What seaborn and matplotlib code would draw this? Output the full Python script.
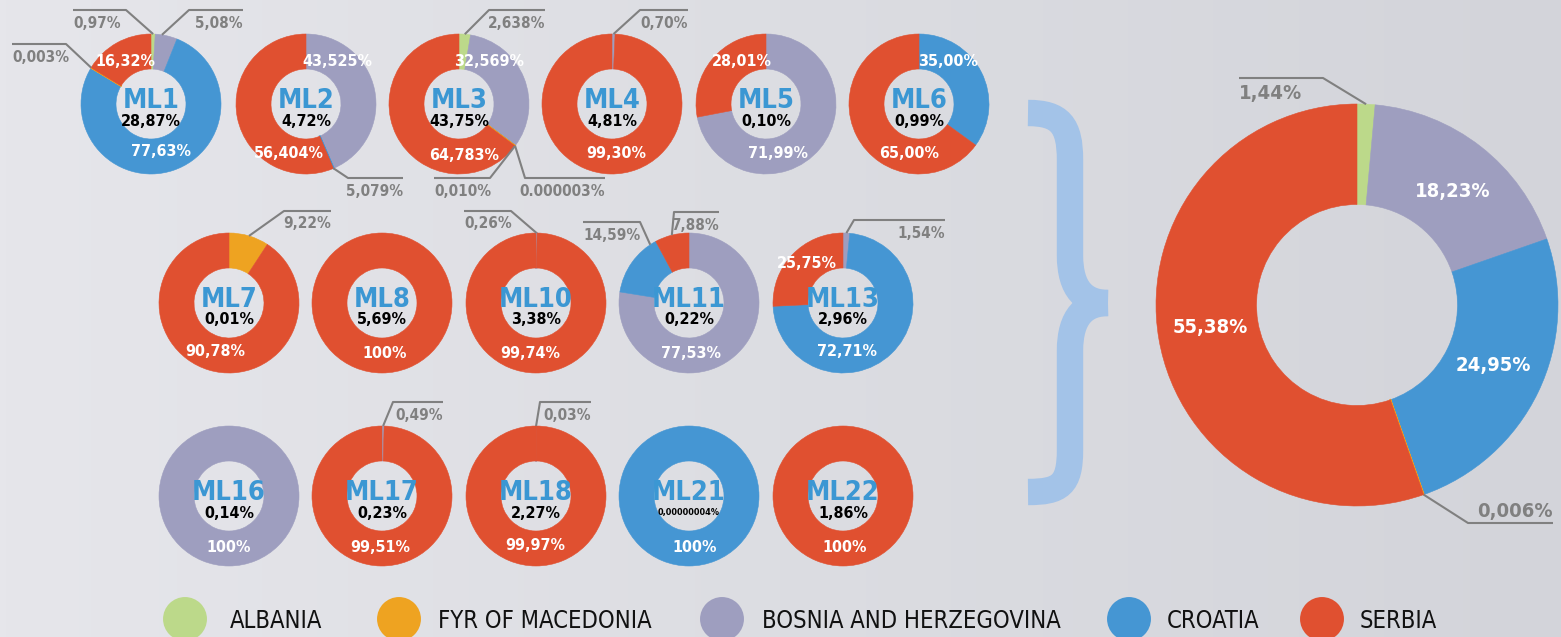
import numpy as np
import pandas as pd
import matplotlib
matplotlib.use("Agg")
import matplotlib.pyplot as plt
from matplotlib.path import Path
from matplotlib.patches import PathPatch
from matplotlib.colors import LinearSegmentedColormap
import seaborn as sns

# donuts and the share printed in the middle of each
names = ["ML1", "ML2", "ML3", "ML4", "ML5", "ML6", "ML7", "ML8", "ML10",
         "ML11", "ML13", "ML16", "ML17", "ML18", "ML21", "ML22"]
share = ["28,87%", "4,72%", "43,75%", "4,81%", "0,10%", "0,99%", "0,01%", "5,69%",
         "3,38%", "0,22%", "2,96%", "0,14%", "0,23%", "2,27%", "0,00000004%", "1,86%"]

# % per country in every donut (same order as names)
albania   = [0.97, 0, 2.638, 0, 0, 0, 0, 0, 0, 0, 0, 0, 0, 0, 0, 0]
bosnia    = [5.08, 43.525, 32.569, 0.70, 71.99, 0, 0, 0, 0.26, 77.53, 1.54, 100, 0.49, 0.03, 0, 0]
croatia   = [77.63, 0.071, 0.000003, 0, 0, 35.00, 0, 0, 0, 14.59, 72.71, 0, 0, 0, 100, 0]
macedonia = [0.003, 0, 0.010, 0, 0, 0, 9.22, 0, 0, 0, 0, 0, 0, 0, 0, 0]
serbia    = [16.32, 56.404, 64.783, 99.30, 28.01, 65.00, 90.78, 100, 99.74, 7.88, 25.75, 0, 99.51, 99.97, 0, 100]

# labels as printed on the chart
albania_txt   = ["0,97%", "", "2,638%", "", "", "", "", "", "", "", "", "", "", "", "", ""]
bosnia_txt    = ["5,08%", "43,525%", "32,569%", "0,70%", "71,99%", "", "", "", "0,26%", "77,53%",
                 "1,54%", "100%", "0,49%", "0,03%", "", ""]
croatia_txt   = ["77,63%", "5,079%", "0.000003%", "", "", "35,00%", "", "", "", "14,59%",
                 "72,71%", "", "", "", "100%", ""]
macedonia_txt = ["0,003%", "", "0,010%", "", "", "", "9,22%", "", "", "", "", "", "", "", "", ""]
serbia_txt    = ["16,32%", "56,404%", "64,783%", "99,30%", "28,01%", "65,00%", "90,78%", "100%",
                 "99,74%", "7,88%", "25,75%", "", "99,51%", "99,97%", "", "100%"]

# overall donut (albania, bosnia, croatia, macedonia, serbia)
total = [1.44, 18.23, 24.95, 0.006, 55.38]
total_txt = ["1,44%", "18,23%", "24,95%", "0,006%", "55,38%"]

legend_names = ["ALBANIA", "FYR OF MACEDONIA", "BOSNIA AND HERZEGOVINA", "CROATIA", "SERBIA"]

keys = ["alb", "bos", "cro", "mac", "ser"]
colors = {"alb": "#bcd98a", "bos": "#9e9ebf", "cro": "#4596d3", "mac": "#eea321", "ser": "#e05030"}
GRAY = "#808080"
MLBLUE = "#3b97d3"

# layout (pixels)
W, H = 1561, 637
row_x1 = [151, 306, 459, 612, 766, 919]
row_x2 = [229, 382, 536, 689, 843]
centers = [(x, 104) for x in row_x1] + [(x, 303) for x in row_x2] + [(x, 496) for x in row_x2]
R = 70

# 'in' -> white label at offset from centre; 'out' -> leader (frac in wedge, elbow, end x, text dy)
place = {
    ("ML1", "ser"): ("in", -26, -42), ("ML1", "cro"): ("in", 10, 48),
    ("ML1", "alb"): ("out", 0.5, (126, 10), 73, 13), ("ML1", "bos"): ("out", 0.3, (189, 10), 243, 13),
    ("ML1", "mac"): ("out", 0.5, (66, 44), 12, 13),
    ("ML2", "bos"): ("in", 31, -43), ("ML2", "ser"): ("in", -17, 49),
    ("ML2", "cro"): ("out", 0.5, (348, 178), 403, 13),
    ("ML3", "bos"): ("in", 30, -42), ("ML3", "ser"): ("in", 5, 51),
    ("ML3", "alb"): ("out", 0.5, (489, 10), 545, 13),
    ("ML3", "mac"): ("out", 0.5, (490, 178), 434, 13), ("ML3", "cro"): ("out", 0.5, (525, 178), 605, 13),
    ("ML4", "ser"): ("in", 4, 50), ("ML4", "bos"): ("out", 0.5, (640, 10), 688, 13),
    ("ML5", "ser"): ("in", -24, -42), ("ML5", "bos"): ("in", 12, 50),
    ("ML6", "cro"): ("in", 29, -42), ("ML6", "ser"): ("in", -10, 50),
    ("ML7", "ser"): ("in", -14, 49), ("ML7", "mac"): ("out", 0.5, (284, 211), 331, 13),
    ("ML8", "ser"): ("in", 3, 50),
    ("ML10", "ser"): ("in", -6, 51), ("ML10", "bos"): ("out", 0.5, (511, 211), 464, 13),
    ("ML11", "bos"): ("in", 2, 51), ("ML11", "cro"): ("out", 0.9, (640, 222), 583, 13),
    ("ML11", "ser"): ("out", 0.5, (674, 212), 719, 13),
    ("ML13", "ser"): ("in", -36, -40), ("ML13", "cro"): ("in", 4, 49),
    ("ML13", "bos"): ("out", 0.5, (854, 220), 945, 13),
    ("ML16", "bos"): ("in", 0, 51),
    ("ML17", "ser"): ("in", -2, 51), ("ML17", "bos"): ("out", 0.5, (393, 402), 443, 13),
    ("ML18", "ser"): ("in", -1, 50), ("ML18", "bos"): ("out", 0.5, (540, 402), 591, 13),
    ("ML21", "cro"): ("in", 6, 51), ("ML22", "ser"): ("in", 2, 51),
    ("ALL", "bos"): ("in", 96, -113), ("ALL", "cro"): ("in", 136, 61), ("ALL", "ser"): ("in", -147, 22),
    ("ALL", "alb"): ("out", 0.5, (1323, 78), 1239, 16), ("ALL", "mac"): ("out", 0.5, (1468, 523), 1553, -12),
}

sns.set_theme(style="white")
plt.rcParams["font.family"] = ["DejaVu Sans"]
plt.rcParams["font.stretch"] = "condensed"

fig = plt.figure(figsize=(W / 100, H / 100), dpi=100)
ax = fig.add_axes([0, 0, 1, 1])

# soft grey background
bg = LinearSegmentedColormap.from_list("bg", ["#e6e6eb", "#dcdde2", "#d3d4da"])
ax.imshow(np.linspace(0, 1, 256)[None, :], extent=[0, W, H, 0], cmap=bg, aspect="auto", zorder=0)


def donut(name, cx, cy, r, vals, txts, fs_in, fs_out):
    idx = [i for i, v in enumerate(vals) if v > 0]
    wedges, _ = ax.pie([vals[i] for i in idx], colors=[colors[keys[i]] for i in idx],
                       radius=r, center=(cx, cy), startangle=-90, counterclock=True,
                       wedgeprops=dict(width=r / 2), frame=True)
    for w, i in zip(wedges, idx):
        w.set_zorder(2)
        small = (w.theta2 - w.theta1) < 1.5
        w.set_edgecolor(w.get_facecolor())
        w.set_linewidth(1.2 if small else 0.4)
        spec = place.get((name, keys[i]))
        if spec is None or not txts[i]:
            continue
        if spec[0] == "in":
            ax.text(cx + spec[1], cy + spec[2], txts[i], color="white", fontsize=fs_in,
                    fontweight="bold", ha="center", va="center", zorder=5)
        else:
            frac, (ex, ey), endx, dy = spec[1:]
            th = np.deg2rad(w.theta1 + frac * (w.theta2 - w.theta1))
            axx, ayy = cx + r * np.cos(th), cy + r * np.sin(th)
            ax.plot([axx, ex, endx], [ayy, ey, ey], color=GRAY, lw=1.5,
                    solid_capstyle="butt", zorder=4)
            ha = "left" if endx < ex else "right"
            ax.text(endx, ey + dy, txts[i], color=GRAY, fontsize=fs_out,
                    fontweight="bold", ha=ha, va="center", zorder=5)


for k, name in enumerate(names):
    cx, cy = centers[k]
    vals = [albania[k], bosnia[k], croatia[k], macedonia[k], serbia[k]]
    txts = [albania_txt[k], bosnia_txt[k], croatia_txt[k], macedonia_txt[k], serbia_txt[k]]
    donut(name, cx, cy, R, vals, txts, 11.5, 11)
    ax.text(cx, cy - 3, name, color=MLBLUE, fontsize=19.5, fontweight="bold",
            ha="center", va="center", zorder=5)
    ax.text(cx, cy + 17, share[k], color="black", fontweight="bold", ha="center", va="center",
            fontsize=11.5 if len(share[k]) < 8 else 6.5, zorder=5)

donut("ALL", 1357, 305, 201, total, total_txt, 14.5, 14.5)

# curly brace between the small donuts and the total
brace = "#a3c3e8"
up = Path([(1028, 113), (1060, 113), (1070, 125), (1070, 160), (1070, 255),
           (1070, 290), (1085, 303), (1108, 303)],
          [Path.MOVETO, Path.CURVE4, Path.CURVE4, Path.CURVE4, Path.LINETO,
           Path.CURVE4, Path.CURVE4, Path.CURVE4])
dn = Path([(1108, 303), (1085, 303), (1070, 316), (1070, 351), (1070, 450),
           (1070, 485), (1060, 492), (1028, 492)],
          [Path.MOVETO, Path.CURVE4, Path.CURVE4, Path.CURVE4, Path.LINETO,
           Path.CURVE4, Path.CURVE4, Path.CURVE4])
for p in (up, dn):
    ax.add_patch(PathPatch(p, fill=False, edgecolor=brace, lw=19, capstyle="butt", zorder=1))

# legend
leg = pd.DataFrame({"country": legend_names, "x": [185, 399, 722, 1129, 1322], "y": [619] * 5})
pal = dict(zip(legend_names, [colors["alb"], colors["mac"], colors["bos"], colors["cro"], colors["ser"]]))
sns.scatterplot(data=leg, x="x", y="y", hue="country", palette=pal, s=1000, linewidth=0,
                legend=False, ax=ax, zorder=3)
for x, t in zip([230, 438, 762, 1167, 1360], legend_names):
    ax.text(x, 621, t, fontsize=17, color="#111111", ha="left", va="center", zorder=5)

ax.set_xlim(0, W)
ax.set_ylim(H, 0)
ax.set_aspect("auto")
ax.axis("off")
fig.savefig("out.png", dpi=100)
